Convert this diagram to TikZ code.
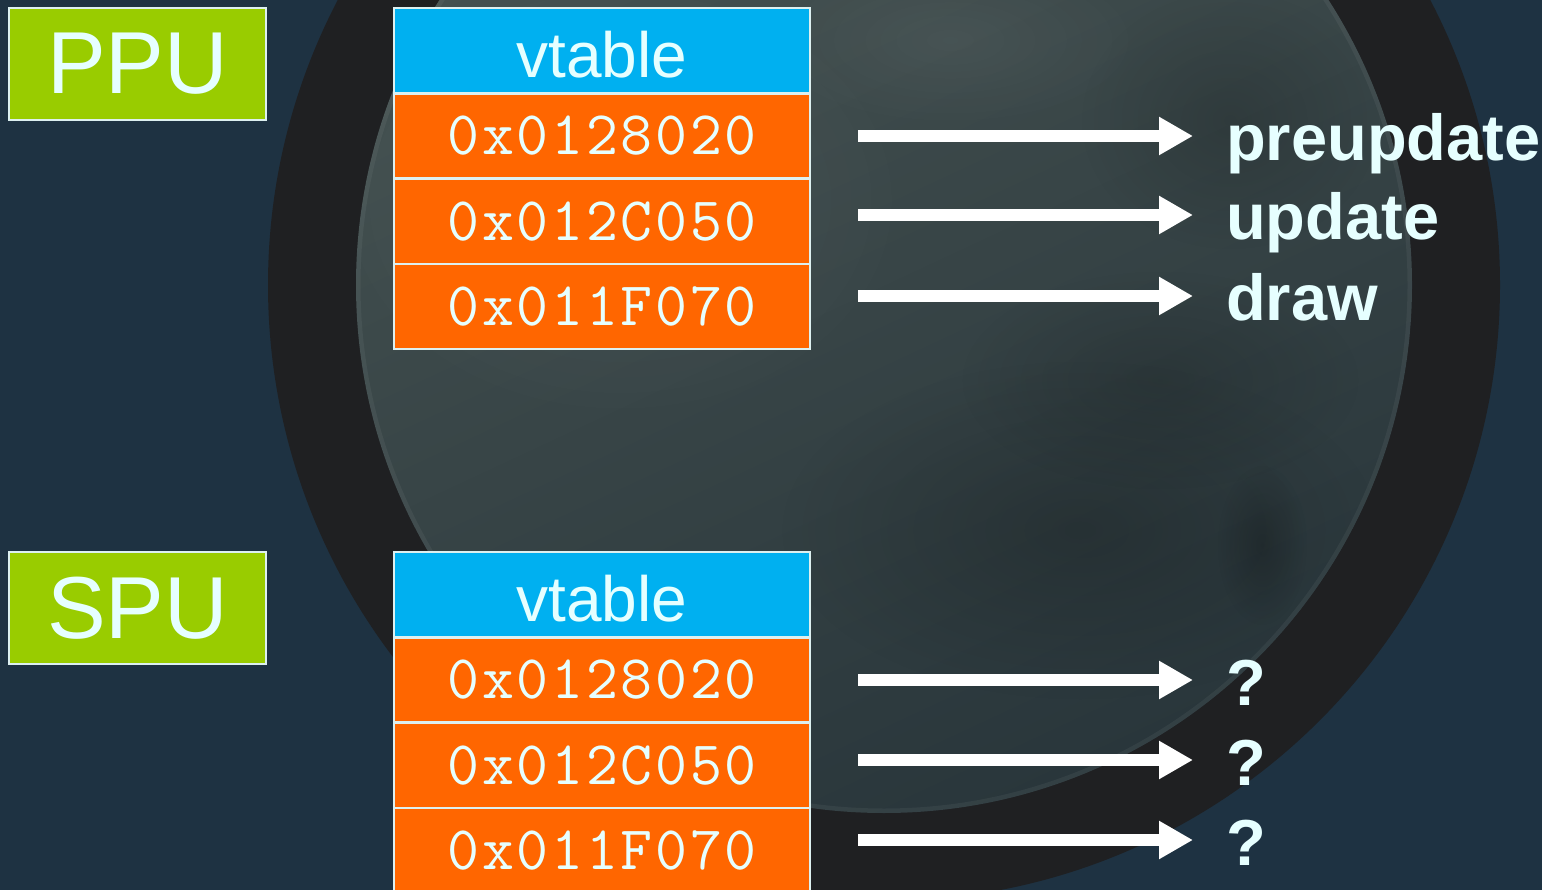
\documentclass[tikz,border=0pt]{standalone}
\usepackage{fontspec}
\setmainfont{Liberation Sans}
\setmonofont{Latin Modern Mono}[LetterSpace=4.4]
\usetikzlibrary{arrows.meta,fadings,positioning}

\definecolor{bgnavy}{HTML}{1E3242}
\definecolor{ringdark}{HTML}{1F2022}
\definecolor{moonlight}{HTML}{465352}
\definecolor{moondark}{HTML}{29363B}
\definecolor{ink}{HTML}{E6FFFF}
\definecolor{edge}{HTML}{DDF0F0}
\definecolor{cpugreen}{HTML}{99CC00}
\definecolor{headblue}{HTML}{00B0F0}
\definecolor{slotorange}{HTML}{FF6600}

% soft-edged spot for shading the lunar surface
\tikzfading[name=softspot, inner color=transparent!0, outer color=transparent!100]

\begin{document}
\begin{tikzpicture}[x=1pt,y=-1pt,
  cell/.style={draw=edge, line width=2.5pt, minimum width=416pt,
               minimum height=85.3pt, inner sep=0pt, outer sep=0pt, text=ink},
  headcell/.style={cell, fill=headblue, text height=53pt, text depth=0pt,
               font=\fontsize{64}{64}\selectfont},
  slotcell/.style={cell, fill=slotorange, font=\ttfamily\fontsize{62}{62}\selectfont},
  cpubox/.style={draw=edge, line width=2.5pt, fill=cpugreen, text=ink,
               minimum width=257pt, minimum height=112pt, inner sep=0pt,
               outer sep=0pt, font=\fontsize{88}{88}\selectfont},
  fnlabel/.style={anchor=base west, text=ink, inner sep=0pt,
               font=\bfseries\fontsize{65}{65}\selectfont},
  ptr/.style={draw=white, line width=12pt,
               -{Triangle[length=34pt,width=36pt]}},
  spot/.style={path fading=softspot}]

% canvas
\useasboundingbox (0,0) rectangle (1542,890);
\clip (0,0) rectangle (1542,890);
\fill[bgnavy] (0,0) rectangle (1542,890);

% moon with its dark rim
\fill[ringdark] (884,285) circle (616);
\begin{scope}
  \clip (884,285) circle (528);
  \shade[top color=moonlight, bottom color=moondark, shading angle=25]
    (884,285) circle (528);
  \fill[black, opacity=0.18, spot] (1080,530) ellipse (300 and 170);
  \fill[black, opacity=0.15, spot] (1160,380) ellipse (200 and 110);
  \fill[black, opacity=0.20, spot] (1262,545) ellipse (45 and 80);
  \fill[black, opacity=0.15, spot] (1230,120) ellipse (150 and 130);
  \fill[white, opacity=0.06, spot] (620,200) ellipse (300 and 230);
  \fill[white, opacity=0.05, spot] (950,40) ellipse (200 and 90);
  \draw[white, opacity=0.05, line width=5pt] (884,285) circle (526);
\end{scope}

% processor tags
\node[cpubox, anchor=north west] (ppu) at (9,8) {PPU};
\node[cpubox, anchor=north west] (spu) at (9,552) {SPU};

% PPU vtable
\node[headcell, anchor=north west] (pvt) at (394,8) {vtable};
\node[slotcell, below=0pt of pvt] (pa) {0x0128020};
\node[slotcell, below=0pt of pa] (pb) {0x012C050};
\node[slotcell, below=0pt of pb] (pc) {0x011F070};

% SPU vtable
\node[headcell, anchor=north west] (svt) at (394,552) {vtable};
\node[slotcell, below=0pt of svt] (sa) {0x0128020};
\node[slotcell, below=0pt of sa] (sb) {0x012C050};
\node[slotcell, below=0pt of sb] (sc) {0x011F070};

% targets of the PPU pointers
\node[fnlabel] (fpre) at (1226,161) {preupdate};
\node[fnlabel] (fupd) at (1226,240) {update};
\node[fnlabel] (fdrw) at (1226,321) {draw};

% unknown targets of the SPU pointers
\node[fnlabel] (q1) at (1226,705) {?};
\node[fnlabel] (q2) at (1226,785) {?};
\node[fnlabel] (q3) at (1226,865) {?};

% pointer arrows
\coordinate (pa0) at (858,136);  \coordinate (pa1) at (1193,136);
\coordinate (pb0) at (858,215);  \coordinate (pb1) at (1193,215);
\coordinate (pc0) at (858,296);  \coordinate (pc1) at (1193,296);
\coordinate (sa0) at (858,680);  \coordinate (sa1) at (1193,680);
\coordinate (sb0) at (858,760);  \coordinate (sb1) at (1193,760);
\coordinate (sc0) at (858,840);  \coordinate (sc1) at (1193,840);
\draw[ptr] (pa0) -- (pa1);
\draw[ptr] (pb0) -- (pb1);
\draw[ptr] (pc0) -- (pc1);
\draw[ptr] (sa0) -- (sa1);
\draw[ptr] (sb0) -- (sb1);
\draw[ptr] (sc0) -- (sc1);
\end{tikzpicture}
\end{document}
